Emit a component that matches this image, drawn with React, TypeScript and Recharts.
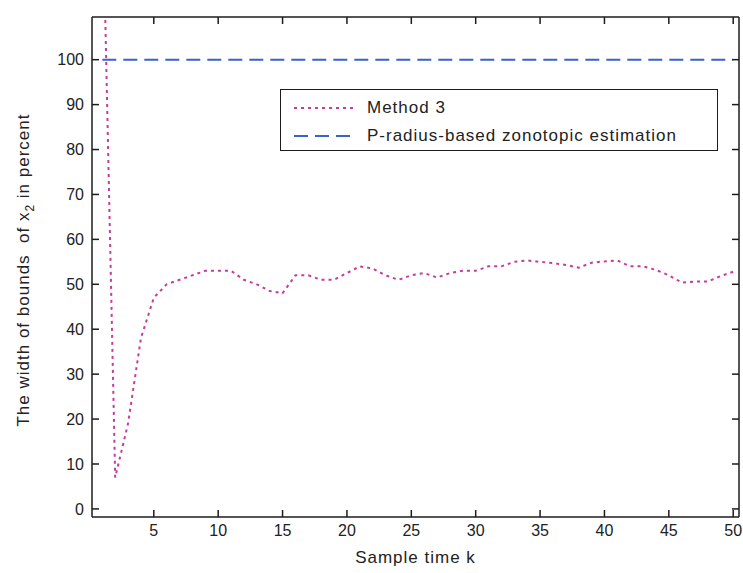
import React from 'react';
import { LineChart, Line, XAxis, YAxis, Legend, Label, ReferenceLine } from 'recharts';

const sampleTimes = [
  1, 2, 3, 4, 5, 6, 7, 8, 9, 10,
  11, 12, 13, 14, 15, 16, 17, 18, 19, 20,
  21, 22, 23, 24, 25, 26, 27, 28, 29, 30,
  31, 32, 33, 34, 35, 36, 37, 38, 39, 40,
  41, 42, 43, 44, 45, 46, 47, 48, 49, 50,
];

const method3Width = [
  140, 7, 19, 38, 47, 50, 51, 52, 53, 53,
  53, 51, 50, 48.5, 48, 52, 52, 51, 51, 52.5,
  54, 53.5, 52, 51, 52, 52.5, 51.5, 52.5, 53, 53,
  54, 54, 55, 55.3, 55, 54.7, 54.3, 53.7, 54.8, 55.1,
  55.3, 54, 54, 53.2, 52, 50.4, 50.6, 50.6, 51.8, 52.8,
];

const pRadiusWidth = [
  100, 100, 100, 100, 100, 100, 100, 100, 100, 100,
  100, 100, 100, 100, 100, 100, 100, 100, 100, 100,
  100, 100, 100, 100, 100, 100, 100, 100, 100, 100,
  100, 100, 100, 100, 100, 100, 100, 100, 100, 100,
  100, 100, 100, 100, 100, 100, 100, 100, 100, 100,
];

const xTicks = [5, 10, 15, 20, 25, 30, 35, 40, 45, 50];
const yTicks = [0, 10, 20, 30, 40, 50, 60, 70, 80, 90, 100];

const seriesNames = ['Method 3', 'P-radius-based zonotopic estimation'];
const xTitle = 'Sample time k';
const yTitleStart = 'The width of bounds  of x';
const yTitleSub = '2';
const yTitleEnd = ' in percent';

const X_DOMAIN: [number, number] = [0.2, 50.45];
const Y_DOMAIN: [number, number] = [-1.8, 109.5];

const CHART_W = 743;
const CHART_H = 573;
const MARGIN = { top: 17, right: 4, bottom: 16, left: 32 };
const Y_AXIS_W = 60;
const X_AXIS_H = 40;
const PLOT_W = CHART_W - MARGIN.left - MARGIN.right - Y_AXIS_W;
const PLOT_H = CHART_H - MARGIN.top - MARGIN.bottom - X_AXIS_H;
const LABEL_GAP = 8;
const TICK_LEN = 7;

const METHOD3_COLOR = '#c43c9e';
const PRADIUS_COLOR = '#3a62c8';
const AXIS_COLOR = '#1c1c1c';
const TEXT_COLOR = '#222';
const FONT = '"Liberation Sans", Arial, Helvetica, sans-serif';

const data = sampleTimes.map((k, i) => ({
  k,
  method3: method3Width[i],
  pRadius: pRadiusWidth[i],
}));

const legendItems = [
  { name: seriesNames[0], color: METHOD3_COLOR, dash: '3 4' },
  { name: seriesNames[1], color: PRADIUS_COLOR, dash: '14 7' },
];

const renderLegend = () => (
  <div
    style={{
      width: 436,
      height: 60,
      border: `1.5px solid ${AXIS_COLOR}`,
      background: '#fff',
      position: 'relative',
      fontFamily: FONT,
      fontSize: 17,
      letterSpacing: 1,
      color: TEXT_COLOR,
    }}
  >
    {legendItems.map((it, i) => (
      <div
        key={it.name}
        style={{
          position: 'absolute',
          left: 0,
          top: 7 + i * 28,
          height: 22,
          display: 'flex',
          alignItems: 'center',
          whiteSpace: 'nowrap',
        }}
      >
        <svg width={86} height={22} style={{ display: 'block' }}>
          <line x1={13} x2={75} y1={11} y2={11} stroke={it.color} strokeWidth={2} strokeDasharray={it.dash} />
        </svg>
        <span>{it.name}</span>
      </div>
    ))}
  </div>
);

const XTick = (props: any) => {
  const { x, y, payload } = props;
  const axisY = y - LABEL_GAP;
  return (
    <g>
      <line x1={x} x2={x} y1={axisY} y2={axisY - TICK_LEN} stroke={AXIS_COLOR} strokeWidth={1.5} />
      <line x1={x} x2={x} y1={axisY - PLOT_H} y2={axisY - PLOT_H + TICK_LEN} stroke={AXIS_COLOR} strokeWidth={1.5} />
      <text x={x} y={y} dy="0.71em" textAnchor="middle" fill={TEXT_COLOR} fontSize={16} fontFamily={FONT}>
        {payload.value}
      </text>
    </g>
  );
};

const YTick = (props: any) => {
  const { x, y, payload } = props;
  const axisX = x + LABEL_GAP;
  return (
    <g>
      <line x1={axisX} x2={axisX + TICK_LEN} y1={y} y2={y} stroke={AXIS_COLOR} strokeWidth={1.5} />
      <line x1={axisX + PLOT_W} x2={axisX + PLOT_W - TICK_LEN} y1={y} y2={y} stroke={AXIS_COLOR} strokeWidth={1.5} />
      <text x={x} y={y} dy="0.355em" textAnchor="end" fill={TEXT_COLOR} fontSize={16} fontFamily={FONT}>
        {payload.value}
      </text>
    </g>
  );
};

const XTitle = (props: any) => {
  const vb = props.viewBox || { x: 0, y: 0, width: 0, height: 0 };
  return (
    <text
      x={vb.x + vb.width / 2}
      y={vb.y + 46}
      textAnchor="middle"
      fill={TEXT_COLOR}
      fontFamily={FONT}
      fontSize={17}
      letterSpacing={1}
    >
      {xTitle}
    </text>
  );
};

const YTitle = (props: any) => {
  const vb = props.viewBox || { x: 0, y: 0, width: 0, height: 0 };
  const cx = vb.x - 3;
  const cy = vb.y + vb.height / 2 + 3;
  return (
    <text
      x={cx}
      y={cy}
      transform={`rotate(-90, ${cx}, ${cy})`}
      textAnchor="middle"
      fill={TEXT_COLOR}
      fontFamily={FONT}
      fontSize={17}
      letterSpacing={1}
      style={{ whiteSpace: 'pre' }}
    >
      {yTitleStart}
      <tspan dy={5} fontSize={12}>{yTitleSub}</tspan>
      <tspan dy={-5}>{yTitleEnd}</tspan>
    </text>
  );
};

const frameLine = { stroke: AXIS_COLOR, strokeWidth: 1.5 };

export default function App() {
  return (
    <div style={{ position: 'absolute', left: 0, top: 0, width: CHART_W, height: CHART_H, background: '#fff' }}>
      <LineChart width={CHART_W} height={CHART_H} data={data} margin={MARGIN}>
        <XAxis
          dataKey="k"
          type="number"
          domain={X_DOMAIN}
          allowDataOverflow
          ticks={xTicks}
          interval={0}
          tickLine={false}
          axisLine={frameLine}
          tick={<XTick />}
          tickSize={0}
          tickMargin={LABEL_GAP}
          height={X_AXIS_H}
        >
          <Label content={XTitle} />
        </XAxis>
        <YAxis
          type="number"
          domain={Y_DOMAIN}
          allowDataOverflow
          ticks={yTicks}
          interval={0}
          tickLine={false}
          axisLine={frameLine}
          tick={<YTick />}
          tickSize={0}
          tickMargin={LABEL_GAP}
          width={Y_AXIS_W}
        >
          <Label content={YTitle} />
        </YAxis>
        <ReferenceLine y={Y_DOMAIN[1]} stroke={AXIS_COLOR} strokeWidth={1.5} />
        <ReferenceLine x={X_DOMAIN[1]} stroke={AXIS_COLOR} strokeWidth={1.5} />
        <Legend
          content={renderLegend}
          layout="vertical"
          align="center"
          verticalAlign="middle"
          wrapperStyle={{ top: 89, left: 280, width: 438, height: 62 }}
        />
        <Line
          dataKey="pRadius"
          name={seriesNames[1]}
          type="linear"
          stroke={PRADIUS_COLOR}
          strokeWidth={2}
          strokeDasharray="14 7"
          dot={false}
          activeDot={false}
          isAnimationActive={false}
        />
        <Line
          dataKey="method3"
          name={seriesNames[0]}
          type="linear"
          stroke={METHOD3_COLOR}
          strokeWidth={2}
          strokeDasharray="3 4"
          dot={false}
          activeDot={false}
          isAnimationActive={false}
        />
      </LineChart>
    </div>
  );
}
